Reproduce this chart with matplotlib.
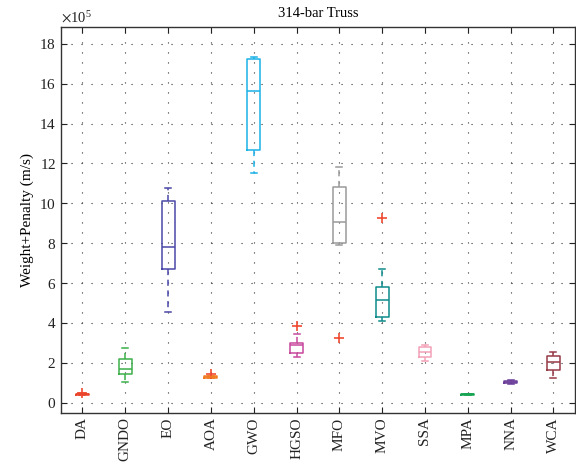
import matplotlib
matplotlib.use("Agg")
import matplotlib.pyplot as plt
from matplotlib.ticker import ScalarFormatter

plt.rcParams['font.family'] = ['Liberation Serif', 'DejaVu Serif']
plt.rcParams['mathtext.fontset'] = 'stix'

SCALE = 1e5

# box statistics, in units of 1e5
algorithms = ['DA', 'GNDO', 'EO', 'AOA', 'GWO', 'HGSO', 'MFO', 'MVO',
              'SSA', 'MPA', 'NNA', 'WCA']
whislo = [0.38, 1.02, 4.57, 1.24, 11.51, 2.31, 7.93, 4.08, 2.11, 0.39, 0.92, 1.25]
q1 = [0.40, 1.44, 6.69, 1.26, 12.68, 2.48, 8.03, 4.30, 2.31, 0.40, 0.96, 1.64]
med = [0.42, 1.68, 7.83, 1.29, 15.64, 2.88, 9.07, 5.15, 2.56, 0.42, 1.02, 2.06]
q3 = [0.44, 2.18, 10.09, 1.33, 17.25, 3.01, 10.81, 5.79, 2.79, 0.44, 1.08, 2.36]
whishi = [0.46, 2.73, 10.76, 1.36, 17.36, 3.46, 11.84, 6.69, 2.88, 0.45, 1.12, 2.53]
fliers = [[0.46], [], [], [1.42], [], [3.86], [3.26], [9.28], [], [], [], []]

colors = ['#e8452c', '#3cb04a', '#4a48a6', '#f07b22', '#1bb2e8', '#c8489c',
          '#9a9a9a', '#0e8a8a', '#f3a0b6', '#16a452', '#6a3c98', '#973b48']


def main():
    fig = plt.figure(figsize=(5.76, 4.71), dpi=100)
    ax = fig.add_axes([0.106, 0.124, 0.892, 0.819])

    for i, name in enumerate(algorithms):
        st = [{
            'label': name,
            'whislo': whislo[i] * SCALE,
            'q1': q1[i] * SCALE,
            'med': med[i] * SCALE,
            'q3': q3[i] * SCALE,
            'whishi': whishi[i] * SCALE,
            'fliers': [f * SCALE for f in fliers[i]],
        }]
        c = colors[i]
        ax.bxp(st, positions=[i + 1], widths=0.3, capwidths=0.14,
               boxprops=dict(color=c, lw=1.1),
               medianprops=dict(color=c, lw=1.1),
               whiskerprops=dict(color=c, lw=1.1, linestyle=(0, (4, 3))),
               capprops=dict(color=c, lw=1.1),
               flierprops=dict(marker='+', markeredgecolor='#f04a30',
                               markersize=7, markeredgewidth=1.2))

    ax.set_xlim(0.5, 12.5)
    ax.set_ylim(-0.5 * SCALE, 18.85 * SCALE)
    ax.set_yticks([k * 2 * SCALE for k in range(10)])
    ax.set_xticks(range(1, 13))
    ax.set_xticklabels(algorithms, rotation=90)

    fmt = ScalarFormatter(useMathText=True)
    fmt.set_powerlimits((5, 5))
    ax.yaxis.set_major_formatter(fmt)
    ax.yaxis.get_offset_text().set_fontsize(10.5)

    ax.grid(True, color='#333333', linestyle=(0, (1, 8)), lw=0.8)
    ax.tick_params(direction='in', top=True, right=True, length=4,
                   labelsize=11, colors='#222222')
    for s in ax.spines.values():
        s.set_linewidth(1.0)
        s.set_color('#333333')

    ax.set_title('314-bar Truss', fontsize=10.5, pad=7)
    ax.set_ylabel('Weight+Penalty (m/s)', fontsize=11)

    fig.savefig('out.png', dpi=100)


if __name__ == "__main__":
    main()
